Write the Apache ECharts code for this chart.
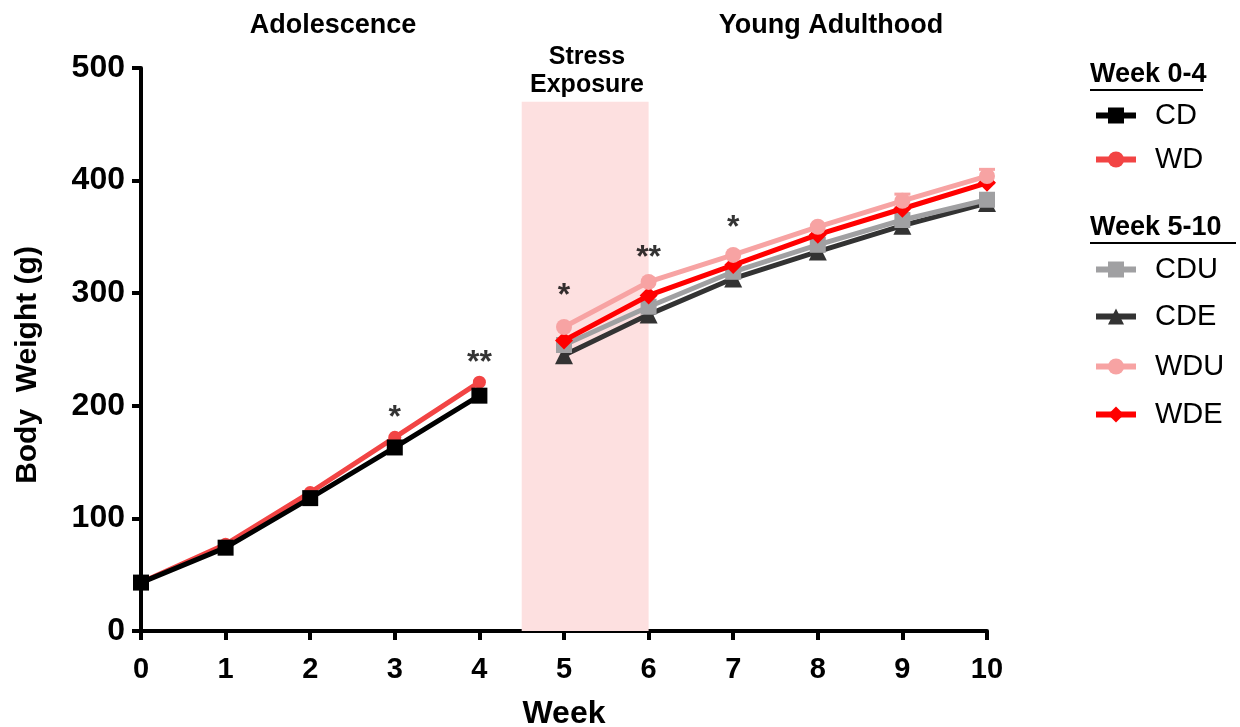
<!DOCTYPE html>
<html>
<head>
<meta charset="utf-8">
<script src="https://cdn.jsdelivr.net/npm/echarts@6/dist/echarts.min.js"></script>
<style>html,body{margin:0;padding:0;background:#fff}#c{width:1240px;height:727px}</style>
</head>
<body>
<div id="c"></div>
<script>
const weeksA = [0, 1, 2, 3, 4];
const weeksB = [5, 6, 7, 8, 9, 10];
const CD  = [43, 74, 118, 163, 209];
const WD  = [43, 77, 123, 172, 221];
const CDU = [254, 288, 319, 343, 365, 383];
const CDE = [245, 281, 313, 337, 360, 380];
const WDU = [270, 310, 334, 359, 382, 404];
const WDE = [258, 298, 325, 352, 375, 398];
const WDUerr = [0, 0, 0, 0, 6, 6];
const xTicks = [0,1,2,3,4,5,6,7,8,9,10];
const yTicks = [0,100,200,300,400,500];
const stars = [[3, 189, '*'], [4, 238, '**'], [5, 297, '*'], [6, 331, '**'], [7, 358, '*']];
const stressBand = [4.5, 6, 470];
const legendNames = ['CD', 'WD', 'CDU', 'CDE', 'WDU', 'WDE'];
const legendY = [111, 155, 265, 312, 362, 410];

const FF = '"Liberation Sans", Arial, sans-serif';
const pair = (xs, ys) => xs.map((x, i) => [x, ys[i]]);

function lineSeries(name, xs, ys, color, symbol, size, z) {
  return {
    name, type: 'line', data: pair(xs, ys), z,
    symbol, symbolSize: size,
    lineStyle: {color, width: 5},
    itemStyle: {color, borderWidth: 0},
    emphasis: {disabled: true}
  };
}

const IH = 20;
const legends = legendNames.map((n, i) => ({
  data: [n], orient: 'vertical', left: 1093, top: legendY[i] - IH / 2,
  itemWidth: 40, itemHeight: IH, padding: 0,
  lineStyle: {width: 6},
  textStyle: {fontFamily: FF, fontSize: 29, color: '#000', padding: [0, 0, 0, 14]},
  selectedMode: false
}));

const chart = echarts.init(document.getElementById('c'));
chart.setOption({
  animation: false,
  grid: {left: 141, right: 253, top: 68, bottom: 96, containLabel: false, outerBoundsMode: 'none'},
  xAxis: {
    type: 'value', min: 0, max: 10, interval: 1,
    name: 'Week', nameLocation: 'middle', nameGap: 67,
    nameTextStyle: {fontFamily: FF, fontWeight: 'bold', fontSize: 32, color: '#000'},
    axisLine: {show: true, onZero: false, lineStyle: {color: '#000', width: 4}},
    axisTick: {show: true, length: 9, lineStyle: {color: '#000', width: 4}},
    axisLabel: {fontFamily: FF, fontWeight: 'bold', fontSize: 29, color: '#000', margin: 24,
      formatter: v => xTicks.includes(v) ? String(v) : ''},
    splitLine: {show: false}
  },
  yAxis: {
    type: 'value', min: 0, max: 500, interval: 100,
    axisLine: {show: true, lineStyle: {color: '#000', width: 4}},
    axisTick: {show: true, length: 9, lineStyle: {color: '#000', width: 4}},
    axisLabel: {fontFamily: FF, fontWeight: 'bold', fontSize: 32, color: '#000', margin: 16,
      formatter: v => yTicks.includes(v) ? String(v) : ''},
    splitLine: {show: false}
  },
  legend: legends,
  graphic: [
    {type: 'text', x: 28, y: 365, rotation: Math.PI / 2, style: {text: 'Body  Weight (g)', font: 'bold 30px ' + FF, fill: '#000', align: 'center', verticalAlign: 'middle'}},
    {type: 'text', x: 333, y: 26, style: {text: 'Adolescence', font: 'bold 27px ' + FF, fill: '#000', align: 'center', verticalAlign: 'middle'}},
    {type: 'text', x: 831, y: 26, style: {text: 'Young Adulthood', font: 'bold 27px ' + FF, fill: '#000', align: 'center', verticalAlign: 'middle'}},
    {type: 'text', x: 587, y: 57, style: {text: 'Stress', font: 'bold 25px ' + FF, fill: '#000', align: 'center', verticalAlign: 'middle'}},
    {type: 'text', x: 587, y: 85, style: {text: 'Exposure', font: 'bold 25px ' + FF, fill: '#000', align: 'center', verticalAlign: 'middle'}},
    {type: 'text', x: 1090, y: 75, style: {text: 'Week 0-4', font: 'bold 27px ' + FF, fill: '#000', verticalAlign: 'middle'}},
    {type: 'line', shape: {x1: 1090, y1: 90, x2: 1203, y2: 90}, style: {stroke: '#000', lineWidth: 2}},
    {type: 'text', x: 1090, y: 228, style: {text: 'Week 5-10', font: 'bold 27px ' + FF, fill: '#000', verticalAlign: 'middle'}},
    {type: 'line', shape: {x1: 1090, y1: 243, x2: 1236, y2: 243}, style: {stroke: '#000', lineWidth: 2}}
  ],
  series: [
    {
      type: 'line', data: [], silent: true,
      markArea: {
        silent: true,
        itemStyle: {color: '#fde0e0'},
        data: [[{xAxis: stressBand[0], yAxis: 0}, {xAxis: stressBand[1], yAxis: stressBand[2]}]]
      }
    },
    lineSeries('CD', weeksA, CD, '#000000', 'rect', 16, 4),
    lineSeries('WD', weeksA, WD, '#f24444', 'circle', 13, 3),
    lineSeries('CDU', weeksB, CDU, '#a0a0a2', 'rect', 16, 4),
    lineSeries('CDE', weeksB, CDE, '#333333', 'triangle', 18, 3),
    lineSeries('WDU', weeksB, WDU, '#f7a3a3', 'circle', 16, 6),
    lineSeries('WDE', weeksB, WDE, '#ff0000', 'diamond', 18, 5),
    {
      type: 'custom', silent: true, z: 5,
      data: weeksB.map((x, i) => [x, WDU[i] - WDUerr[i], WDU[i] + WDUerr[i]]).filter(d => d[2] > d[1]),
      renderItem: (params, api) => {
        const lo = api.coord([api.value(0), api.value(1)]);
        const hi = api.coord([api.value(0), api.value(2)]);
        const s = {stroke: '#f7a3a3', lineWidth: 3};
        return {type: 'group', children: [
          {type: 'line', shape: {x1: hi[0], y1: hi[1], x2: lo[0], y2: lo[1]}, style: s},
          {type: 'line', shape: {x1: hi[0] - 8, y1: hi[1], x2: hi[0] + 8, y2: hi[1]}, style: s},
          {type: 'line', shape: {x1: lo[0] - 8, y1: lo[1], x2: lo[0] + 8, y2: lo[1]}, style: s}
        ]};
      }
    },
    {
      type: 'scatter', symbolSize: 0, silent: true, z: 10,
      data: stars.map(s => ({value: [s[0], s[1]], label: {formatter: s[2]}})),
      label: {show: true, position: 'inside', fontFamily: FF, fontSize: 32, fontWeight: 'bold', color: '#000'}
    }
  ]
});
</script>
</body>
</html>
